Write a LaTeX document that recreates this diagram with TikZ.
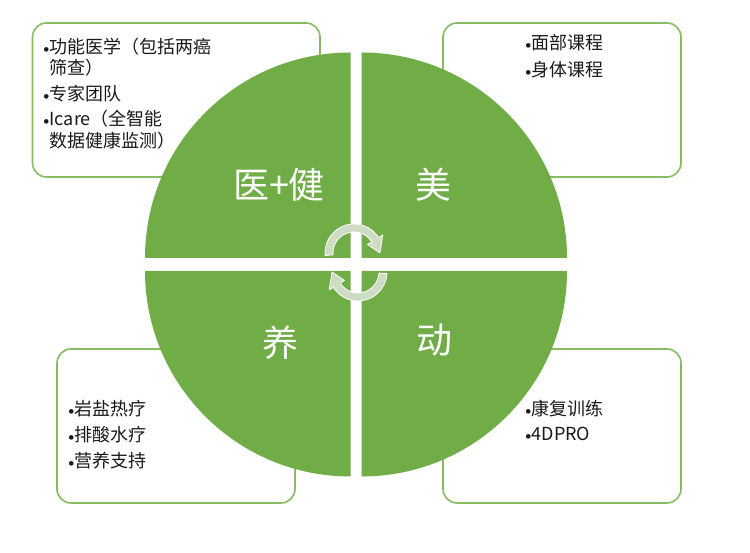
\documentclass[tikz,border=0pt]{standalone}
\usepackage{fontspec}
\setmainfont{Noto Sans CJK SC}
\newfontfamily\latfont{Carlito}
\definecolor{qgreen}{HTML}{70AD47}
\definecolor{boxgreen}{HTML}{86BB62}
\definecolor{arrowfill}{HTML}{CDDCC3}
\definecolor{txt}{HTML}{1A1A1A}
\newcommand\bul{{\latfont\fontsize{13}{13}\selectfont •}}
\begin{document}
\begin{tikzpicture}[x=1pt,y=1pt,
  box/.style={draw=boxgreen,line width=1.6pt,rounded corners=14pt,fill=white,
    minimum width=238pt,minimum height=154pt,inner sep=0pt},
  item/.style={anchor=west,inner sep=0pt,text=txt,font=\fontsize{18}{20}\selectfont},
  big/.style={inner sep=0pt,text=white,font=\fontsize{36}{40}\selectfont},
  quarter/.style={fill=qgreen},
  cyc/.style={fill=arrowfill,draw=white,line width=0.8pt,line join=round}]
\useasboundingbox (0,0) rectangle (750,553);
\fill[white] (0,0) rectangle (750,553);
% boxes
\node[box,minimum width=287.5pt] (boxTL) at (176.25,453) {};
\node[box] (boxTR) at (562,453) {};
\node[box] (boxBL) at (176,127) {};
\node[box] (boxBR) at (562,127) {};
% quarters
\fill[quarter] (350.5,295) -- ++(-205.5,0) arc[start angle=180,end angle=90,radius=205.5] -- cycle;
\fill[quarter] (361.5,295) -- ++(205.5,0) arc[start angle=0,end angle=90,radius=205.5] -- cycle;
\fill[quarter] (350.5,282) -- ++(-205.5,0) arc[start angle=180,end angle=270,radius=205.5] -- cycle;
\fill[quarter] (361.5,282) -- ++(205.5,0) arc[start angle=0,end angle=-90,radius=205.5] -- cycle;
% cycle arrows
\begin{scope}[shift={(354,300)}]
\filldraw[cyc] (185:29) arc[start angle=185,end angle=32,radius=29] -- (32:34) -- (0:26) -- (32:16) -- (32:21) arc[start angle=32,end angle=185,radius=21] -- cycle;
\end{scope}
\begin{scope}[shift={(358,281)}]
\filldraw[cyc] (-3:29) arc[start angle=-3,end angle=-148,radius=29] -- (-148:34) -- (-180:26) -- (-148:16) -- (-148:21) arc[start angle=-148,end angle=-3,radius=21] -- cycle;
\end{scope}
% big labels
\node[big] (lblA) at (279,368) {医+健};
\node[big] (lblB) at (433,368) {美};
\node[big] (lblC) at (280,210) {养};
\node[big] (lblD) at (434,213) {动};
% top-left items
\node[item] (tl1) at (43,506) {\bul 功能医学（包括两癌};
\node[item] (tl2) at (49,485) {筛查）};
\node[item] (tl3) at (43,459) {\bul 专家团队};
\node[item] (tl4) at (43,434) {\bul Icare（全智能};
\node[item] (tl5) at (49,412) {数据健康监测）};
% top-right items
\node[item] (tr1) at (525,510) {\bul 面部课程};
\node[item] (tr2) at (525,483) {\bul 身体课程};
% bottom-left items
\node[item] (bl1) at (68,144) {\bul 岩盐热疗};
\node[item] (bl2) at (68,118) {\bul 排酸水疗};
\node[item] (bl3) at (68,92) {\bul 营养支持};
% bottom-right items
\node[item] (br1) at (525,144) {\bul 康复训练};
\node[item] (br2) at (525,119) {\bul 4DPRO};
\end{tikzpicture}
\end{document}
